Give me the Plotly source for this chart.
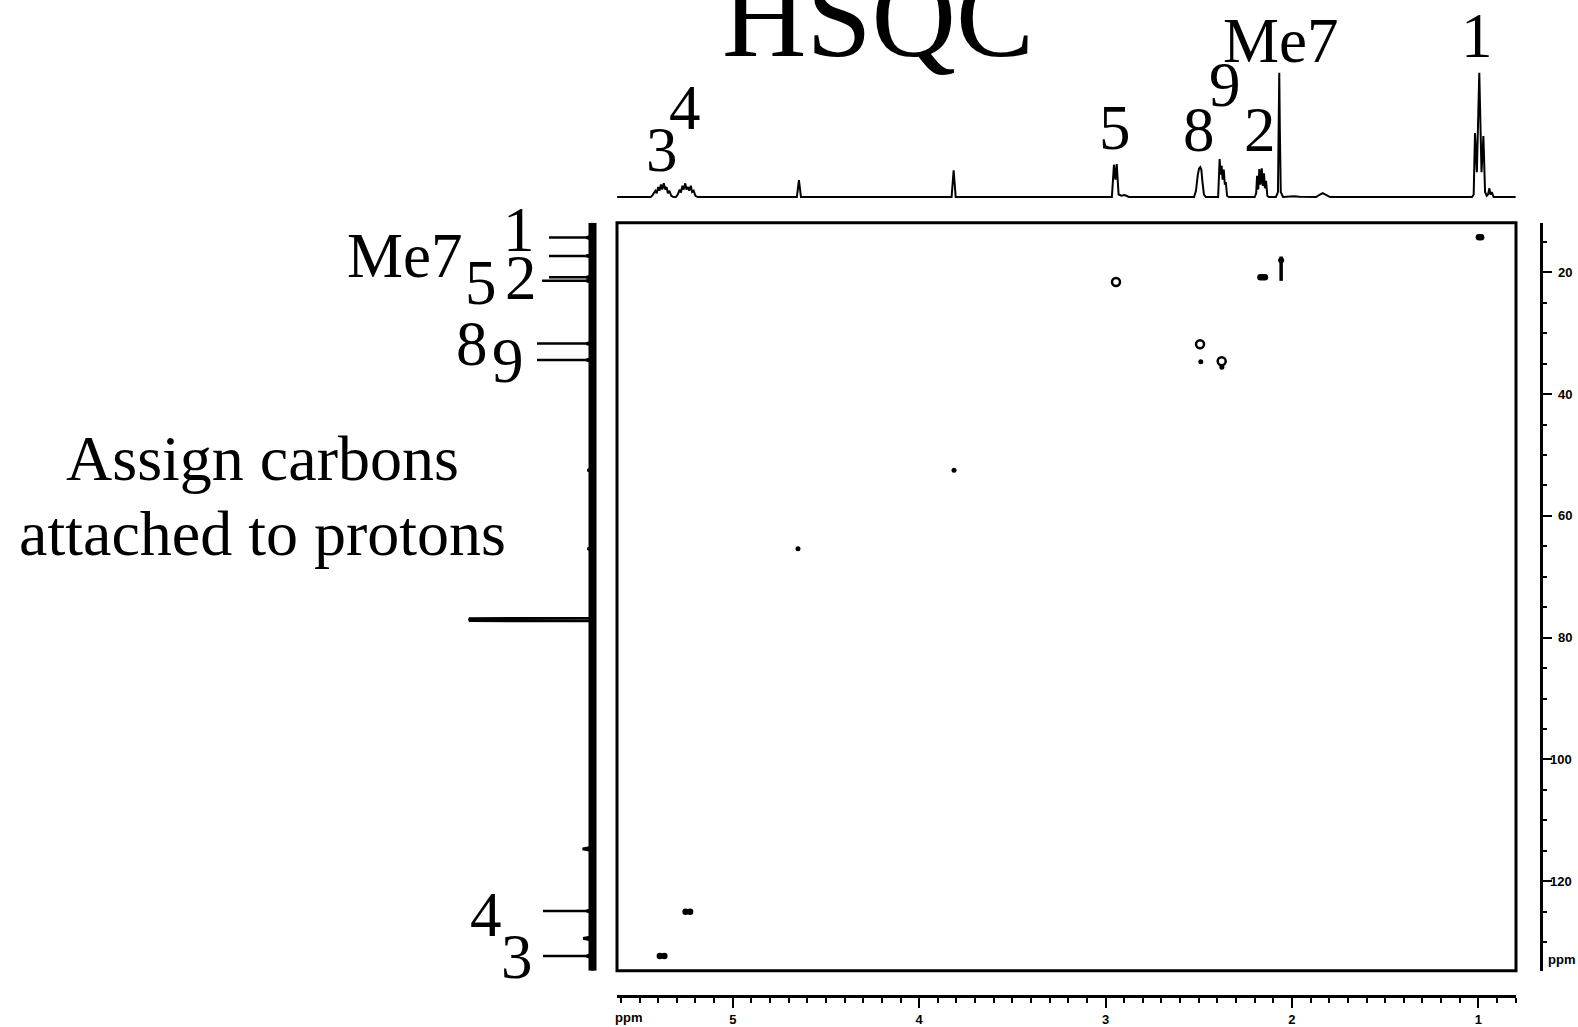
import plotly.graph_objects as go

W, H = 1578, 1027


def fx(px):
    return px / W


def fy(py):
    return 1 - py / H


# ---- data -----------------------------------------------------------------
# axis windows (ppm)
H_RANGE = [5.621, 0.798]      # 1H, left to right
C_RANGE = [134.7, 11.85]      # 13C, bottom to top

# 1H projection trace (ppm, relative intensity)
H1_PPM = [5.62, 5.44, 5.43, 5.415, 5.408, 5.400, 5.393, 5.385, 5.378, 5.370, 5.362, 5.355, 5.348, 5.340, 5.330, 5.318,
          5.305, 5.295, 5.285, 5.278, 5.270, 5.263, 5.255, 5.248, 5.240, 5.233, 5.225, 5.218, 5.210, 5.200, 5.188,
          4.656, 4.645, 4.634,
          3.826, 3.815, 3.804,
          2.966, 2.955, 2.947, 2.940, 2.930, 2.915, 2.900, 2.888, 2.875,
          2.525, 2.515, 2.505, 2.498, 2.492, 2.486, 2.480, 2.472, 2.462,
          2.396, 2.388, 2.382, 2.377, 2.372, 2.366, 2.360, 2.355, 2.348, 2.338,
          2.200, 2.192, 2.187, 2.181, 2.175, 2.169, 2.162, 2.156, 2.150, 2.145, 2.139, 2.132, 2.124,
          2.086, 2.075, 2.071, 2.068, 2.065, 2.060, 2.048,
          1.990, 1.960, 1.870, 1.850, 1.835, 1.820, 1.795,
          1.034, 1.025, 1.018, 1.008, 0.995, 0.983, 0.973, 0.964, 0.955, 0.948, 0.941, 0.935, 0.928, 0.918, 0.80]
H1_INT = [0, 0, 1.5, 5, 3, 8, 5, 10, 6, 11, 6, 8, 3, 5, 1, 0,
          0, 2, 6, 3.5, 9, 6, 11, 6, 8, 5, 9, 4, 5, 1, 0,
          0, 13.5, 0,
          0, 21.5, 0,
          0, 26, 14, 26.5, 2, 1, 1.5, 1, 0,
          0, 5, 18, 23, 24, 22, 12, 2, 0,
          0, 30.5, 18, 25, 14, 22, 10, 12, 1, 0,
          0, 3, 17, 6, 22.5, 10, 23, 9, 19, 7, 13, 1, 0,
          0, 4, 60, 100, 55, 4, 0,
          0.6, 0.3, 0, 2, 3.2, 2, 0,
          0, 2, 51.5, 20, 100, 20, 49, 4, 1, 2, 7, 2, 4, 0, 0]

# 13C projection trace (ppm, relative intensity); the CDCl3 triplet merges into one bar
C13_PPM = [11.85, 14.0, 14.3, 14.6, 17.0, 17.3, 17.6, 20.6, 20.8, 21.05, 21.4, 21.7, 31.4, 31.7, 32.0,
           34.1, 34.4, 34.7, 52.2, 52.5, 52.8, 65.1, 65.4, 65.7,
           76.84, 76.86, 77.04, 77.22, 77.24,
           114.4, 114.7, 115.0, 124.6, 124.9, 125.2, 129.1, 129.4, 129.7, 132.0, 132.3, 132.6, 134.7]
C13_INT = [0, 0, 5, 0, 0, 5, 0, 0, 5, 0, 5, 0, 0, 5, 0,
           0, 5, 0, 0, 4, 0, 0, 4, 0,
           0, 100, 99, 100, 0,
           0, 8, 0, 0, 5, 0, 0, 7.5, 0, 0, 5, 0, 0]

# HSQC cross peaks (1H ppm, 13C ppm)
STRONG_H = [0.985, 0.997, 2.145, 2.157, 2.169, 5.253, 5.229, 5.391, 5.367]
STRONG_C = [14.25, 14.25, 20.8, 20.8, 20.8, 125.0, 125.0, 132.3, 132.3]
OPEN_H = [2.944, 2.493, 2.377]
OPEN_C = [21.6, 31.8, 34.6]
WEAK_H = [3.813, 4.650, 2.489, 2.376]
WEAK_C = [52.5, 65.4, 34.7, 35.6]
ME7_H = [2.058, 2.058]
ME7_C = [17.4, 21.4]

# assignments
H_LABELS = ["3", "4", "5", "8", "9", "2", "Me7", "1"]
C_LABELS = ["1", "Me7", "2", "5", "8", "9", "4", "3"]
C_SHIFTS = [14.3, 17.3, 20.8, 21.4, 31.7, 34.4, 124.9, 132.3]

C_TICKS = [20, 40, 60, 80, 100, 120]
H_TICKS = [5, 4, 3, 2, 1]

# ---- figure ---------------------------------------------------------------
fig = go.Figure()

# cross peaks
fig.add_trace(go.Scatter(x=STRONG_H, y=STRONG_C, mode="markers", xaxis="x", yaxis="y",
                         marker=dict(color="black", size=6.5, line=dict(width=0))))
fig.add_trace(go.Scatter(x=OPEN_H, y=OPEN_C, mode="markers", xaxis="x", yaxis="y",
                         marker=dict(symbol="circle-open", color="black", size=8,
                                     line=dict(width=2.5, color="black"))))
fig.add_trace(go.Scatter(x=WEAK_H, y=WEAK_C, mode="markers", xaxis="x", yaxis="y",
                         marker=dict(color="black", size=5, line=dict(width=0))))
fig.add_trace(go.Scatter(x=ME7_H, y=ME7_C, mode="lines", xaxis="x", yaxis="y",
                         line=dict(color="black", width=3.5)))
fig.add_trace(go.Scatter(x=ME7_H[:1], y=[ME7_C[0] + 0.6], mode="markers", xaxis="x", yaxis="y",
                         marker=dict(color="black", size=6, line=dict(width=0))))

# 1H projection on top
fig.add_trace(go.Scatter(x=H1_PPM, y=H1_INT, mode="lines", xaxis="x2", yaxis="y2",
                         line=dict(color="black", width=2)))

# 13C projection on the left (noisy baseline band + peaks)
fig.add_trace(go.Scatter(x=[0, 0], y=[C_RANGE[1], C_RANGE[0]], mode="lines", xaxis="x3", yaxis="y",
                         line=dict(color="black", width=8)))
fig.add_trace(go.Scatter(x=C13_INT, y=C13_PPM, mode="lines", xaxis="x3", yaxis="y",
                         line=dict(color="black", width=2.8)))

tickfont = dict(family="Liberation Sans", size=13, color="black", weight="bold")

fig.update_layout(
    width=W, height=H,
    margin=dict(l=0, r=0, t=0, b=0),
    paper_bgcolor="white", plot_bgcolor="rgba(0,0,0,0)",
    showlegend=False,
    xaxis=dict(domain=[fx(617), fx(1516)], range=H_RANGE, anchor="free", position=fy(996),
               showline=True, linewidth=3, linecolor="black", showgrid=False, zeroline=False,
               ticks="outside", ticklen=10, tickwidth=2, tickcolor="black",
               tickvals=H_TICKS, ticktext=[str(t) for t in H_TICKS], tickfont=tickfont,
               minor=dict(dtick=0.1, tick0=0, ticks="outside", ticklen=5, tickwidth=2, tickcolor="black")),
    yaxis=dict(domain=[fy(970.7), fy(222.7)], range=C_RANGE, anchor="free", position=fx(1540.7),
               side="right", showline=True, linewidth=3, linecolor="black", showgrid=False, zeroline=False,
               ticks="outside", ticklen=9, tickwidth=2, tickcolor="black",
               tickvals=C_TICKS, showticklabels=False,
               minor=dict(dtick=5, tick0=0, ticks="outside", ticklen=4, tickwidth=2, tickcolor="black")),
    xaxis2=dict(domain=[fx(617), fx(1516)], range=H_RANGE, anchor="y2", visible=False),
    yaxis2=dict(domain=[fy(200), fy(70)], range=[-2.41, 102.2], anchor="x2", visible=False),
    xaxis3=dict(domain=[fx(440), fx(600)], range=[123.5, -6.07], anchor="free", position=0, visible=False),
)

# right-aligned 13C tick labels
for t in C_TICKS:
    fig.add_annotation(text=str(t), xref="paper", yref="y", x=fx(1573), y=t, xanchor="right",
                       yanchor="middle", showarrow=False, font=tickfont, borderpad=0)

# frame around the correlation map
fig.add_shape(type="rect", xref="x domain", yref="y domain", x0=0, x1=1, y0=0, y1=1,
              line=dict(color="black", width=3), fillcolor="rgba(0,0,0,0)")

# leader lines from carbon labels to the 13C projection
C_LINE_START = [549, 549, 549, 542, 537, 537, 543, 543]
for c_ppm, x0 in zip(C_SHIFTS, C_LINE_START):
    fig.add_shape(type="line", xref="paper", yref="y", x0=fx(x0), x1=fx(589), y0=c_ppm, y1=c_ppm,
                  line=dict(color="black", width=2.5))

serif = "Liberation Serif"


def label(text, cx, baseline, size=63):
    fig.add_annotation(text=text, xref="paper", yref="paper", x=fx(cx), y=fy(baseline - 0.3375 * size),
                       xanchor="center", yanchor="middle", showarrow=False,
                       font=dict(family=serif, size=size, color="black"), borderpad=0)


# proton labels over the 1H projection
H_LABEL_POS = [(662, 171), (685, 129), (1115, 149), (1199, 151), (1225, 106), (1260, 151), (1280, 62), (1477, 57)]
for t, (cx, bl) in zip(H_LABELS, H_LABEL_POS):
    label(t, cx, bl)

# carbon labels beside the 13C projection
C_LABEL_POS = [(519, 251), (405, 277), (521, 299), (481, 304), (472, 365), (508, 382), (486, 936), (517, 978)]
for t, (cx, bl) in zip(C_LABELS, C_LABEL_POS):
    label(t, cx, bl)

label("HSQC", 878, 55.5, size=117)
label("Assign carbons", 262, 480, size=64)
label("attached to protons", 262, 555.5, size=64)

# axis unit labels
fig.add_annotation(text="ppm", xref="paper", yref="paper", x=fx(628), y=fy(1017), xanchor="center",
                   yanchor="middle", showarrow=False, font=tickfont)
fig.add_annotation(text="ppm", xref="paper", yref="paper", x=fx(1546), y=fy(959), xanchor="left",
                   yanchor="middle", showarrow=False, font=tickfont)

fig.write_html("out.html")
